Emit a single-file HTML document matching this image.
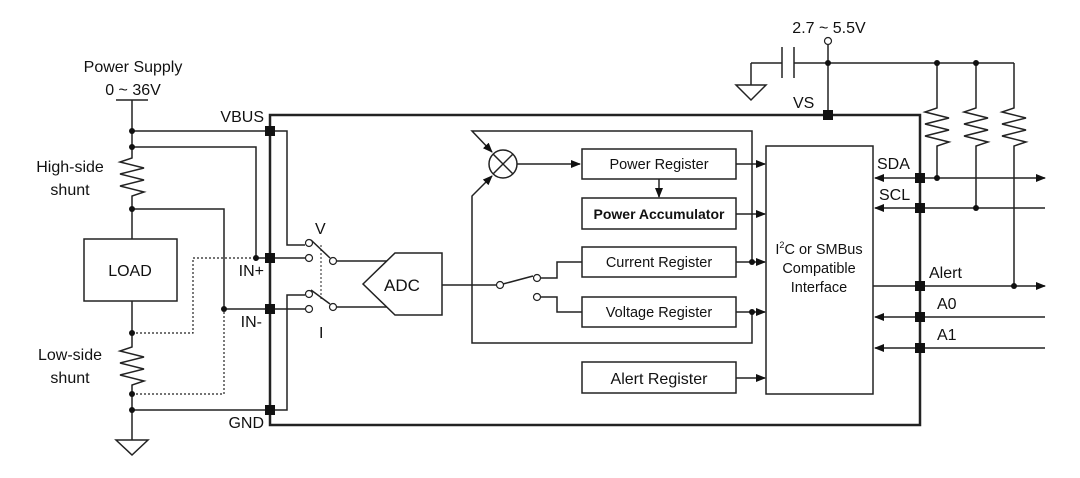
<!DOCTYPE html>
<html><head><meta charset="utf-8"><style>
body{margin:0;background:#fff}
svg{display:block}
text{font-family:"Liberation Sans",Arial,sans-serif;fill:#111}
</style></head><body>
<svg width="1080" height="478" viewBox="0 0 1080 478" xmlns="http://www.w3.org/2000/svg">
<defs>
<marker id="a" markerWidth="10" markerHeight="8" refX="9" refY="4" orient="auto" markerUnits="userSpaceOnUse"><path d="M0,0 L10,4 L0,8 z" fill="#111"/></marker>
</defs>
<g stroke="#222" stroke-width="1.5" fill="none">
<!-- power supply -->
<line x1="116" y1="100" x2="148" y2="100"/>
<polyline points="132,100 132,158 120,162 144,168 120,174 144,180 120,186 144,192 132,196 132,239"/>
<rect x="84" y="239" width="93" height="62"/>
<polyline points="132,301 132,347 120,351 144,357 120,363 144,369 120,375 144,381 132,385 132,440"/>
<polygon points="116,440 148,440 132,455"/>
<!-- outside wires -->
<line x1="132" y1="131" x2="270" y2="131"/>
<polyline points="132,147 256,147 256,258 270,258"/>
<polyline points="132,209 224,209 224,309 270,309"/>
<line x1="132" y1="410" x2="270" y2="410"/>
<polyline stroke-dasharray="2,2" stroke-width="1.2" points="132,333 193,333 193,258 256,258"/>
<polyline stroke-dasharray="2,2" stroke-width="1.2" points="132,394 224,394 224,309"/>
<!-- chip -->
<rect x="270" y="115" width="650" height="310" stroke-width="2.5"/>
<!-- inside left wires -->
<polyline points="270,131 287,131 287,245 305,245"/>
<polyline points="270,410 287,410 287,295 305,295"/>
<line x1="270" y1="258" x2="305" y2="258"/>
<line x1="270" y1="309" x2="305" y2="309"/>
<line x1="311" y1="240" x2="330" y2="258"/>
<line x1="311" y1="290" x2="330" y2="304"/>
<line x1="321" y1="245" x2="321" y2="300" stroke-dasharray="2,2" stroke-width="1"/>
<line x1="337" y1="261" x2="387" y2="261"/>
<line x1="337" y1="307" x2="387" y2="307"/>
<polygon points="363,284 395,253 442,253 442,315 395,315"/>
<line x1="442" y1="285" x2="497" y2="285"/>
<line x1="503" y1="284" x2="533" y2="276"/>
<polyline points="541,278 557,278 557,262 582,262"/>
<polyline points="541,297 557,297 557,312 582,312"/>
<!-- registers -->
<rect x="582" y="149" width="154" height="30"/>
<rect x="582" y="198" width="154" height="31"/>
<rect x="582" y="247" width="154" height="30"/>
<rect x="582" y="297" width="154" height="30"/>
<rect x="582" y="362" width="154" height="31"/>
<rect x="766" y="146" width="107" height="248"/>
<circle cx="503" cy="164" r="14"/>
<line x1="493" y1="154" x2="513" y2="174"/><line x1="513" y1="154" x2="493" y2="174"/>
<line x1="517" y1="164" x2="580" y2="164" marker-end="url(#a)"/>
<line x1="659" y1="179" x2="659" y2="197" marker-end="url(#a)"/>
<line x1="736" y1="164" x2="765" y2="164" marker-end="url(#a)"/>
<line x1="736" y1="214" x2="765" y2="214" marker-end="url(#a)"/>
<line x1="736" y1="262" x2="765" y2="262" marker-end="url(#a)"/>
<line x1="736" y1="312" x2="765" y2="312" marker-end="url(#a)"/>
<line x1="736" y1="378" x2="765" y2="378" marker-end="url(#a)"/>
<!-- loop -->
<polyline points="752,262 752,131 472,131 492,152" marker-end="url(#a)"/>
<polyline points="752,312 752,343 472,343 472,196 492,176" marker-end="url(#a)"/>
<!-- top supply -->
<line x1="828" y1="45" x2="828" y2="115"/>
<line x1="751" y1="63" x2="782" y2="63"/>
<line x1="794" y1="63" x2="1014" y2="63"/>
<line x1="782" y1="47" x2="782" y2="78"/><line x1="794" y1="47" x2="794" y2="78"/>
<line x1="751" y1="63" x2="751" y2="85"/>
<polygon points="736,85 766,85 751,100"/>
<polyline points="937,63 937,108 925,112 949,118 925,124 949,130 925,136 949,142 937,146 937,178"/>
<polyline points="976,63 976,108 964,112 988,118 964,124 988,130 964,136 988,142 976,146 976,208"/>
<polyline points="1014,63 1014,108 1002,112 1026,118 1002,124 1026,130 1002,136 1026,142 1014,146 1014,286"/>
<!-- right pins -->
<line x1="920" y1="178" x2="875" y2="178" marker-end="url(#a)"/>
<line x1="920" y1="178" x2="1045" y2="178" marker-end="url(#a)"/>
<line x1="1045" y1="208" x2="875" y2="208" marker-end="url(#a)"/>
<line x1="873" y1="286" x2="1045" y2="286" marker-end="url(#a)"/>
<line x1="1045" y1="317" x2="875" y2="317" marker-end="url(#a)"/>
<line x1="1045" y1="348" x2="875" y2="348" marker-end="url(#a)"/>
</g>
<g fill="#fff" stroke="#222" stroke-width="1.2">
<circle cx="828" cy="41" r="3.5"/>
<circle cx="309" cy="243" r="3.5"/><circle cx="309" cy="258" r="3.5"/><circle cx="333" cy="261" r="3.5"/>
<circle cx="309" cy="294" r="3.5"/><circle cx="309" cy="309" r="3.5"/><circle cx="333" cy="307" r="3.5"/>
<circle cx="500" cy="285" r="3.5"/><circle cx="537" cy="278" r="3.5"/><circle cx="537" cy="297" r="3.5"/>
</g>
<g fill="#111">
<circle cx="132" cy="131" r="3"/><circle cx="132" cy="147" r="3"/><circle cx="132" cy="209" r="3"/>
<circle cx="132" cy="333" r="3"/><circle cx="132" cy="394" r="3"/><circle cx="132" cy="410" r="3"/>
<circle cx="256" cy="258" r="3"/><circle cx="224" cy="309" r="3"/>
<circle cx="828" cy="63" r="3"/><circle cx="937" cy="63" r="3"/><circle cx="976" cy="63" r="3"/>
<circle cx="937" cy="178" r="3"/><circle cx="976" cy="208" r="3"/><circle cx="1014" cy="286" r="3"/>
<circle cx="752" cy="262" r="3"/><circle cx="752" cy="312" r="3"/>
<rect x="265" y="126" width="10" height="10"/><rect x="265" y="253" width="10" height="10"/>
<rect x="265" y="304" width="10" height="10"/><rect x="265" y="405" width="10" height="10"/>
<rect x="823" y="110" width="10" height="10"/>
<rect x="915" y="173" width="10" height="10"/><rect x="915" y="203" width="10" height="10"/>
<rect x="915" y="281" width="10" height="10"/><rect x="915" y="312" width="10" height="10"/><rect x="915" y="343" width="10" height="10"/>
</g>
<g font-size="16">
<text x="133" y="72" text-anchor="middle">Power Supply</text>
<text x="133" y="95" text-anchor="middle">0 ~ 36V</text>
<text x="70" y="172" text-anchor="middle">High-side</text>
<text x="70" y="195" text-anchor="middle">shunt</text>
<text x="70" y="360" text-anchor="middle">Low-side</text>
<text x="70" y="383" text-anchor="middle">shunt</text>
<text x="130" y="276" text-anchor="middle">LOAD</text>
<text x="264" y="122" text-anchor="end">VBUS</text>
<text x="264" y="276" text-anchor="end">IN+</text>
<text x="262" y="327" text-anchor="end">IN-</text>
<text x="264" y="428" text-anchor="end">GND</text>
<text x="315" y="234">V</text>
<text x="319" y="338">I</text>
<text x="402" y="291" text-anchor="middle" font-size="17">ADC</text>
<text x="829" y="33" text-anchor="middle">2.7 ~ 5.5V</text>
<text x="793" y="108">VS</text>
<text x="877" y="169">SDA</text>
<text x="879" y="200">SCL</text>
<text x="929" y="278">Alert</text>
<text x="937" y="309">A0</text>
<text x="937" y="340">A1</text>
</g>
<g font-size="14.5" text-anchor="middle">
<text x="659" y="169">Power Register</text>
<text x="659" y="219" font-weight="bold" font-size="14">Power Accumulator</text>
<text x="659" y="267">Current Register</text>
<text x="659" y="317">Voltage Register</text>
<text x="659" y="384" font-size="16">Alert Register</text>
<text x="819" y="254">I<tspan font-size="9" dy="-6">2</tspan><tspan dy="6">C or SMBus</tspan></text>
<text x="819" y="273">Compatible</text>
<text x="819" y="292">Interface</text>
</g>
</svg>
</body></html>
